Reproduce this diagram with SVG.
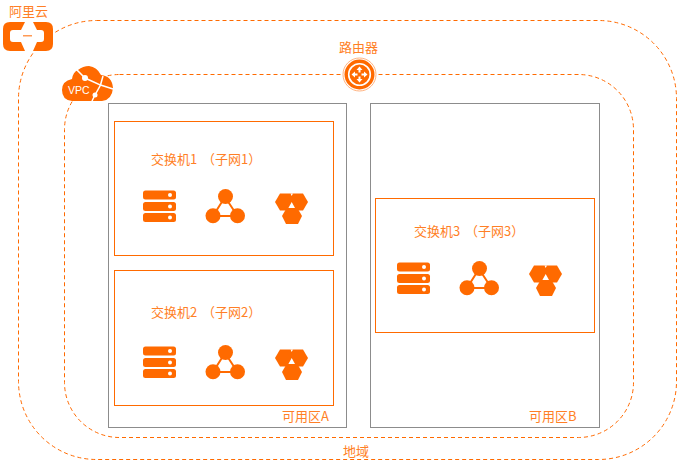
<svg xmlns="http://www.w3.org/2000/svg" xmlns:xlink="http://www.w3.org/1999/xlink" width="684" height="469" viewBox="0 0 684 469">
<style>
text{font-family:"Noto Sans CJK SC","Liberation Sans",sans-serif;font-size:13px;fill:#ff7f26;text-spacing-trim:space-all}
.dash{fill:none;stroke:#ff6a00;stroke-width:1;stroke-dasharray:4 3}
.zone{fill:none;stroke:#8c8c8c;stroke-width:1}
.subnet{fill:none;stroke:#ff6a00;stroke-width:1}
.o{fill:#ff6a00}
</style>
<defs>
<g id="res">
<rect class="o" x="13" y="15.500" width="33" height="9" rx="2.500"/>
<rect class="o" x="13" y="27" width="33" height="9" rx="2.500"/>
<rect class="o" x="13" y="38" width="33" height="9" rx="2.500"/>
<circle cx="40" cy="20" r="2" fill="#fff"/><circle cx="40" cy="31.500" r="2" fill="#fff"/><circle cx="40" cy="42.500" r="2" fill="#fff"/>
<path d="M95 22L83 41H107.500Z" fill="none" stroke="#ff6a00" stroke-width="2"/>
<circle class="o" cx="95.500" cy="21.500" r="7.500"/><circle class="o" cx="83" cy="40.700" r="7.500"/><circle class="o" cx="107.500" cy="40.700" r="7.500"/>
<path class="o" d="M150 18.500H173L178 27L173 35.500H150L145 27Z"/>
<path class="o" d="M156 34H168L172 41L168 49H156L152 41Z"/>
<path d="M161.700 27L165 33H158.400ZM160.500 18.500H163L161.700 21Z" fill="#fff"/>
</g>
</defs>
<g id="connectors">
<rect id="region-border" class="dash" x="18.500" y="20.500" width="658" height="439" rx="78"/>
<rect id="vpc-border" class="dash" x="64.500" y="74.500" width="569" height="363" rx="55"/>
</g>
<g id="zone-a"><rect class="zone" x="108.500" y="103.500" width="238" height="324"/><text x="282" y="421">可用区A</text></g>
<g id="zone-b"><rect class="zone" x="370.500" y="103.500" width="229" height="324"/><text x="529" y="421">可用区B</text></g>
<g id="subnet-1"><rect class="subnet" x="114.500" y="121.500" width="219" height="134"/><text x="151" y="164">交换机1<tspan x="202">（子网1）</tspan></text><use xlink:href="#res" href="#res" x="130" y="175"/></g>
<g id="subnet-2"><rect class="subnet" x="114.500" y="270.500" width="219" height="135"/><text x="151" y="317">交换机2<tspan x="202">（子网2）</tspan></text><use xlink:href="#res" href="#res" x="130" y="331"/></g>
<g id="subnet-3"><rect class="subnet" x="375.500" y="198.500" width="219" height="134"/><text x="414" y="236">交换机3<tspan x="465">（子网3）</tspan></text><use xlink:href="#res" href="#res" x="384" y="247"/></g>
<g id="aliyun">
<text x="9" y="16">阿里云</text>
<path class="o" d="M10 22H25L21 30H13Q10 30 10 33V39Q10 42 13 42H21L25 51H10Q3 51 3 44V29Q3 22 10 22Z"/>
<path class="o" d="M33 22H46Q53 22 53 29V44Q53 51 46 51H33L37 42H41Q44 42 44 39V33Q44 30 41 30H37Z"/>
<rect x="23" y="35" width="9" height="1.500" fill="#ff9a55"/>
</g>
<g id="vpc">
<path class="o" d="M62 90Q62 81 72 79Q73 72 78 70Q83 66 89 66Q97 67 101 75Q112 76 113 88Q112 100 102 101H72Q62 100 62 90Z"/>
<path d="M76 69L85 78L100.500 85L95 95L92 101M100.500 85L103 76M100.500 85L113 89" fill="none" stroke="#fff" stroke-width="1.500"/>
<circle cx="85" cy="78" r="3" fill="#fff"/><circle cx="95" cy="95" r="2.500" fill="#fff"/>
<text x="68" y="93.500" style="font-family:'Liberation Sans',sans-serif;font-size:10.500px;fill:#fff">VPC</text>
</g>
<g id="router">
<text x="339" y="52">路由器</text>
<circle cx="359.500" cy="74.500" r="16.500" fill="#fff" stroke="#ffb380" stroke-width="1"/>
<circle class="o" cx="359.500" cy="74.500" r="15"/>
<circle cx="359.500" cy="74.500" r="10.800" fill="none" stroke="#fff" stroke-width="1.600"/>
<path fill="#fff" d="M359.500 66.500L362.500 70H360.500V72.500H358.500V70H356.500ZM359.500 82.500L362.500 79H360.500V76.500H358.500V79H356.500ZM351.500 74.500L355 71.500V73.500H357.500V75.500H355V77.500ZM367.500 74.500L364 71.500V73.500H361.500V75.500H364V77.500Z"/>
</g>
<text id="region-label" x="343" y="455.500">地域</text>
</svg>
